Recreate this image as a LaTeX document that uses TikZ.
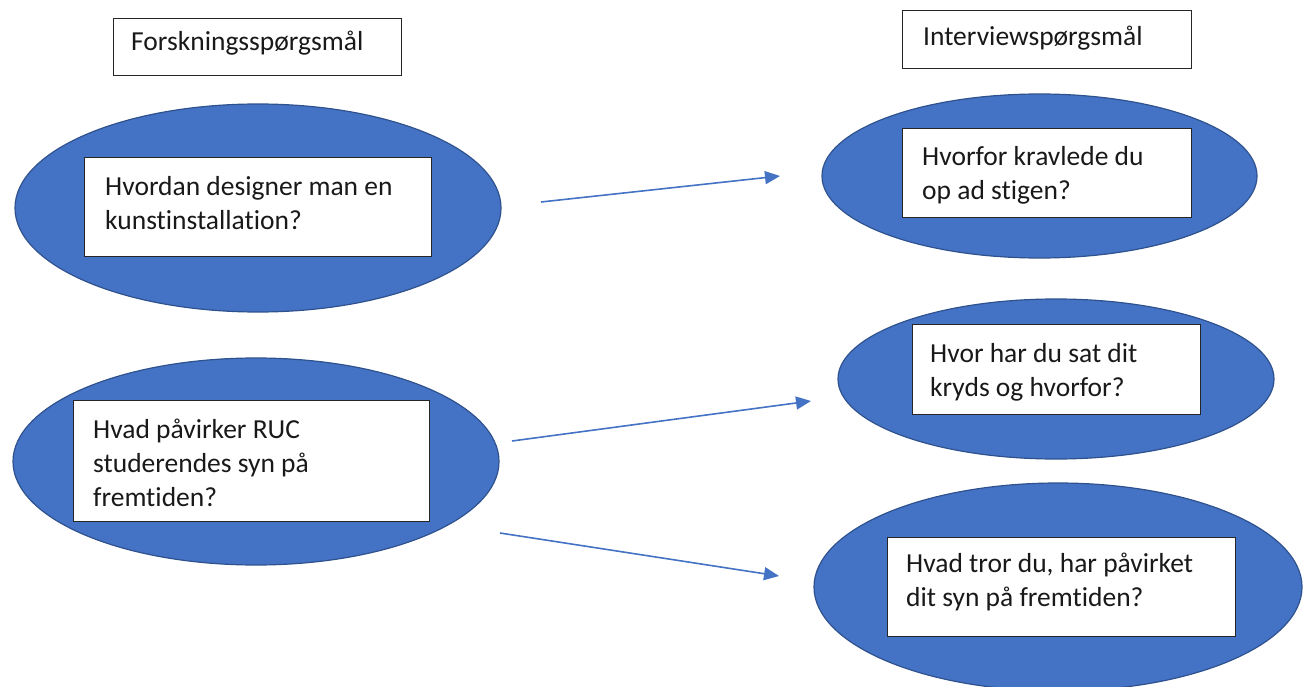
\documentclass[tikz,border=0pt]{standalone}
\usepackage{fontspec}
\setmainfont[Ligatures=NoCommon]{Carlito}
\usetikzlibrary{shapes.geometric,arrows.meta}
\definecolor{ellfill}{HTML}{4472C4}
\definecolor{elldraw}{HTML}{2F528F}
\definecolor{arrowc}{HTML}{4472C4}
\tikzset{
  ell/.style={ellipse, fill=ellfill, draw=elldraw, line width=1.2pt, inner sep=0pt},
  qbox/.style={rectangle, fill=white, draw=black!85, line width=1.3pt, inner sep=0pt, anchor=north west},
  txt/.style={inner sep=0pt, anchor=north west, align=left, text=black!90,
    font=\fontsize{27.5}{34}\selectfont},
  link/.style={draw=arrowc, line width=1.6pt, -{Triangle[length=15pt,width=13pt]}}
}
\newcommand{\fl}{\rule{0pt}{20pt}}
\begin{document}
\begin{tikzpicture}[x=1pt,y=-1pt]
\useasboundingbox (0,0) rectangle (1303,687);
% headings
\node[qbox, minimum width=288, minimum height=57] (h1) at (113,18) {};
\node[txt] (h1t) at (131,30) {\fl Forskningsspørgsmål};
\node[qbox, minimum width=289, minimum height=58] (h2) at (902,10) {};
\node[txt] (h2t) at (923,25) {\fl Interviewspørgsmål};
% ellipses
\node[ell, minimum width=486, minimum height=208] (e1) at (258,208) {};
\node[ell, minimum width=435, minimum height=164] (e2) at (1039.5,176) {};
\node[ell, minimum width=486, minimum height=207] (e3) at (256,461.5) {};
\node[ell, minimum width=436, minimum height=160] (e4) at (1056,379) {};
\node[ell, minimum width=488, minimum height=208] (e5) at (1058,587) {};
% boxes
\node[qbox, minimum width=347, minimum height=99] (b1) at (84,157) {};
\node[txt] (t1) at (105,175) {\fl Hvordan designer man en\\kunstinstallation?};
\node[qbox, minimum width=289, minimum height=89] (b2) at (902,128) {};
\node[txt] (t2) at (922,145) {\fl Hvorfor kravlede du\\op ad stigen?};
\node[qbox, minimum width=356, minimum height=121] (b3) at (73,400) {};
\node[txt] (t3) at (93,418) {\fl Hvad påvirker RUC\\studerendes syn på\\fremtiden?};
\node[qbox, minimum width=288, minimum height=90] (b4) at (912,324) {};
\node[txt] (t4) at (930,342) {\fl Hvor har du sat dit\\kryds og hvorfor?};
\node[qbox, minimum width=348, minimum height=99] (b5) at (887,537) {};
\node[txt] (t5) at (906,552) {\fl Hvad tror du, har påvirket\\dit syn på fremtiden?};
% arrows
\coordinate (a1s) at (541,202);
\coordinate (a1e) at (780,176);
\coordinate (a2s) at (512,441);
\coordinate (a2e) at (811,401);
\coordinate (a3s) at (500,533);
\coordinate (a3e) at (779,576);
\draw[link] (a1s) -- (a1e);
\draw[link] (a2s) -- (a2e);
\draw[link] (a3s) -- (a3e);
\end{tikzpicture}
\end{document}
